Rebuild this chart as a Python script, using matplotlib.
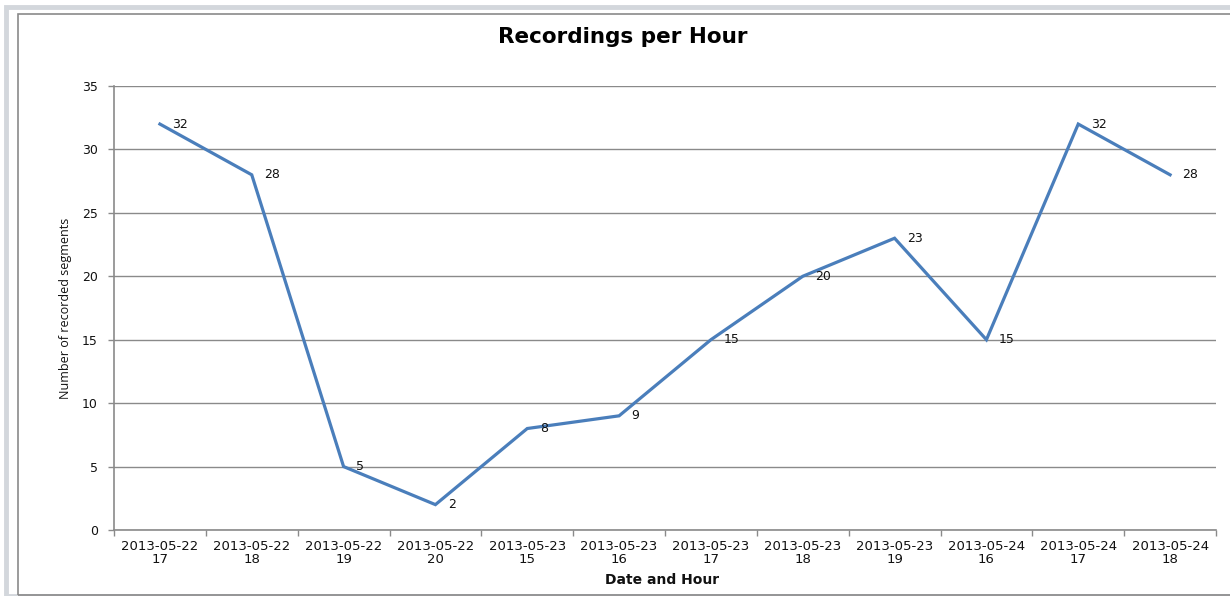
import numpy as np
import matplotlib
matplotlib.use("Agg")
from matplotlib import pyplot as plt
from matplotlib.patches import Rectangle

# chart data
dates = ["2013-05-22", "2013-05-22", "2013-05-22", "2013-05-22",
         "2013-05-23", "2013-05-23", "2013-05-23", "2013-05-23",
         "2013-05-23", "2013-05-24", "2013-05-24", "2013-05-24"]
hours = ["17", "18", "19", "20", "15", "16", "17", "18", "19", "16", "17", "18"]
counts = [32, 28, 5, 2, 8, 9, 15, 20, 23, 15, 32, 28]
y_ticks = [0, 5, 10, 15, 20, 25, 30, 35]

plt.rcParams['font.family'] = ['DejaVu Sans']
grey = "#8a8a8a"
text_col = "#111111"

fig = plt.figure(figsize=(12.3, 5.96), dpi=100)
W, H = 1230, 596

# outer frames (Excel chart look)
fig.patches.append(Rectangle((6 / W, 0), (W + 20) / W, (H - 7) / H, transform=fig.transFigure,
                             fill=False, edgecolor="#d3d7dc", linewidth=3.5))
fig.patches.append(Rectangle((18 / W, 1.5 / H), (W + 20) / W, (H - 15.5) / H, transform=fig.transFigure,
                             fill=False, edgecolor=grey, linewidth=1.2))

ax = fig.add_axes([114 / W, 66 / H, 1102 / W, 444 / H])
x = np.arange(len(counts)) + 0.5
ax.plot(x, counts, color="#4a7ebb", linewidth=2.3, solid_joinstyle="miter", zorder=3)

# data labels to the right of each point
for xi, v in zip(x, counts):
    ax.annotate(str(v), (xi, v), xytext=(9, 0), textcoords="offset points",
                ha="left", va="center", fontsize=9, color=text_col)

ax.set_xlim(0, len(counts))
ax.set_ylim(0, 35)
ax.set_yticks(y_ticks)
ax.yaxis.grid(True, color=grey, linewidth=1)
ax.set_axisbelow(True)

# category ticks at boundaries, labels at centers
ax.set_xticks(np.arange(len(counts) + 1))
ax.set_xticklabels([])
ax.set_xticks(x, minor=True)
ax.set_xticklabels([d + "\n" + h for d, h in zip(dates, hours)], minor=True,
                   fontsize=9.5, color=text_col, linespacing=1.0)
ax.tick_params(axis="x", which="minor", length=0, pad=7)
ax.tick_params(axis="x", which="major", length=4.5, color=grey, width=1)
ax.tick_params(axis="y", length=4.5, color=grey, width=1, pad=7, labelsize=9,
               labelcolor=text_col)

for s in ["top", "right"]:
    ax.spines[s].set_visible(False)
for s in ["left", "bottom"]:
    ax.spines[s].set_color(grey)
    ax.spines[s].set_linewidth(1.2)

fig.text(623 / W, 1 - 37 / H, "Recordings per Hour", ha="center", va="center",
         fontsize=15.5, fontweight="bold", color="black")
fig.text(662 / W, 1 - 580 / H, "Date and Hour", ha="center", va="center",
         fontsize=10, fontweight="bold", color=text_col)
fig.text(66 / W, 1 - 308 / H, "Number of recorded segments", ha="center", va="center",
         rotation=90, fontsize=9, color=text_col, family=["Open Sans", "DejaVu Sans"])

fig.savefig("out.png", dpi=100)
